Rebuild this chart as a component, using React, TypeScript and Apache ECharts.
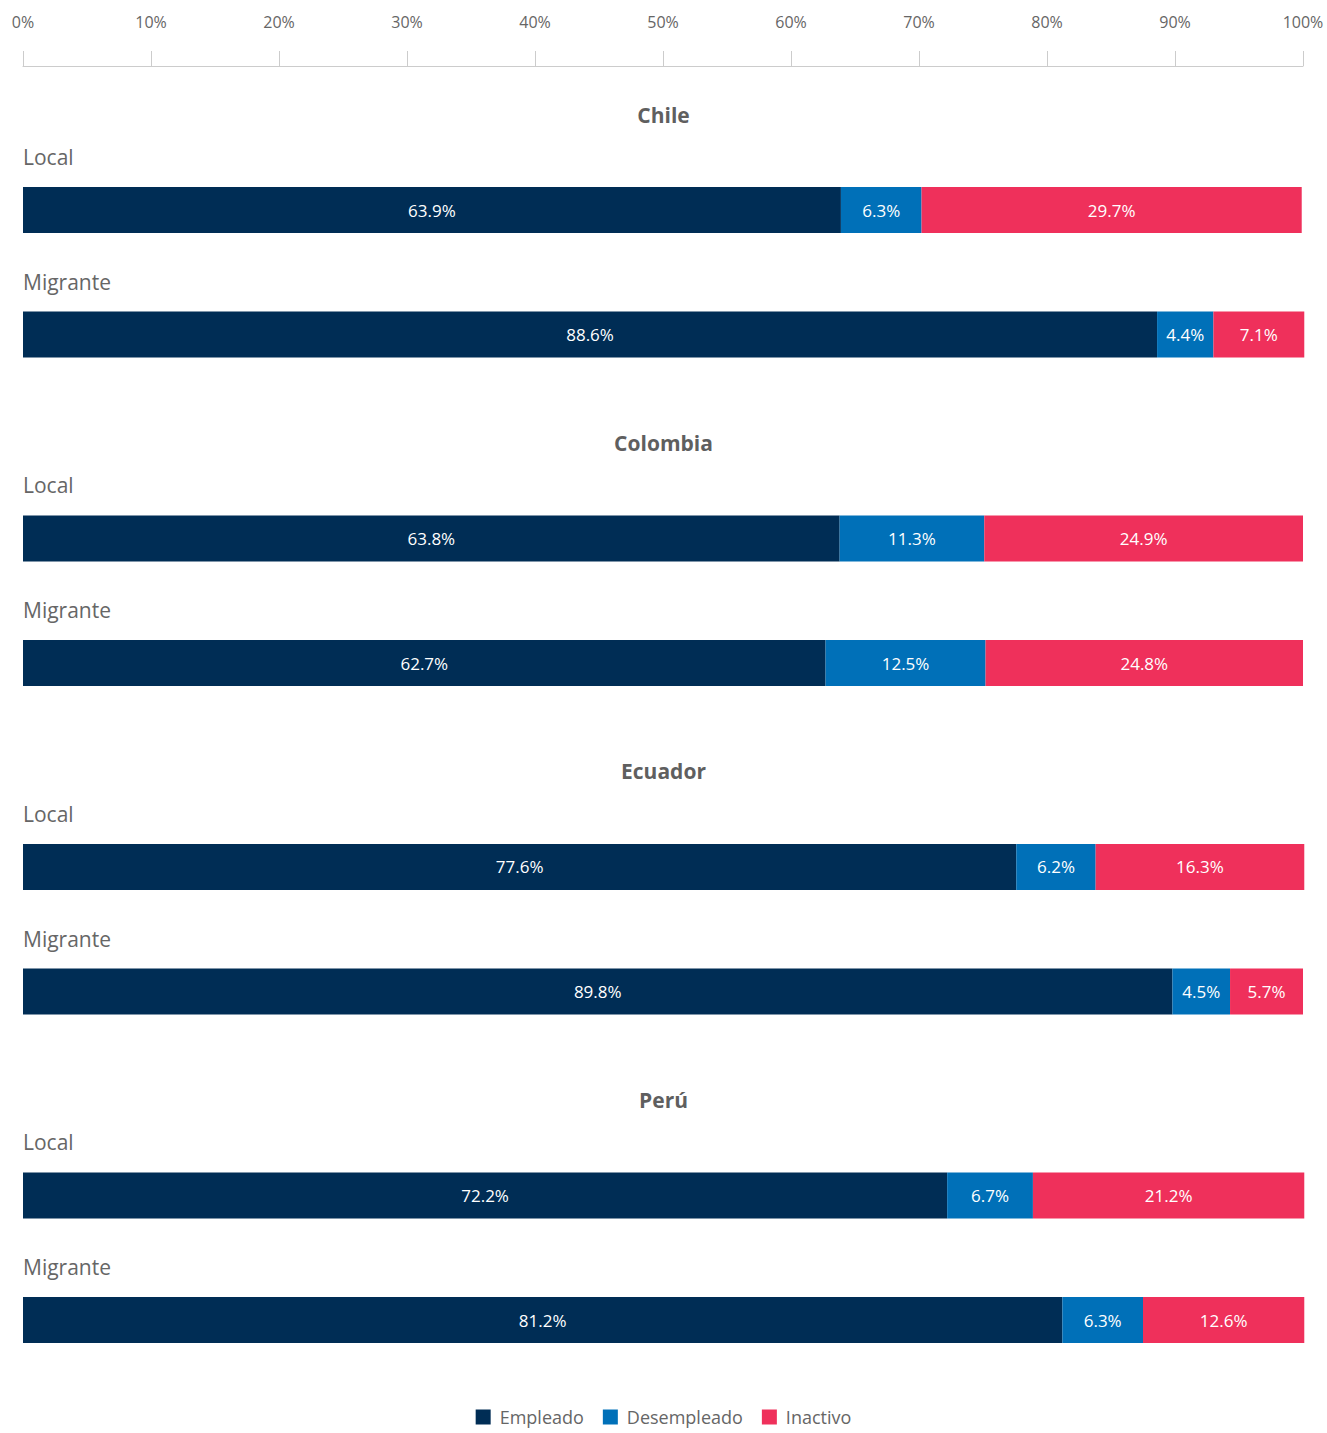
import { useEffect, useRef } from 'react';
import * as echarts from 'echarts';

const countries = ['Chile', 'Colombia', 'Ecuador', 'Perú'];
const groups = ['Local', 'Migrante'];
const seriesNames = ['Empleado', 'Desempleado', 'Inactivo'];
const empleado = [63.9, 88.6, 63.8, 62.7, 77.6, 89.8, 72.2, 81.2];
const desempleado = [6.3, 4.4, 11.3, 12.5, 6.2, 4.5, 6.7, 6.3];
const inactivo = [29.7, 7.1, 24.9, 24.8, 16.3, 5.7, 21.2, 12.6];
const colors = ['#002d55', '#0070b8', '#ef305b'];

export default function App() {
  const ref = useRef<HTMLDivElement>(null);
  useEffect(() => {
    document.body.style.margin = '0';
    const chart = echarts.init(ref.current!, null, { renderer: 'svg' });
    const font = '"Open Sans", Lato, sans-serif';
    const slotsPerCountry = 29;
    const groupStep = 11;
    const totalSlots = 3 * slotsPerCountry + groupStep + 1;
    const slotH = 1110 / (totalSlots - 1);
    const gridTop = 210 - slotH / 2;
    const cats: string[] = Array.from({ length: totalSlots }, (_, i) => `gap${i}`);
    const rowSlot: number[] = [];
    countries.forEach((c, ci) =>
      groups.forEach((g, gi) => {
        const s = ci * slotsPerCountry + gi * groupStep;
        cats[s] = `${c}|${g}`;
        rowSlot.push(s);
      })
    );
    const toSlots = (vals: number[]) => {
      const arr: (number | null)[] = new Array(totalSlots).fill(null);
      vals.forEach((v, i) => (arr[rowSlot[i]] = v));
      return arr;
    };
    const allVals = [empleado, desempleado, inactivo];

    chart.setOption({
      animation: false,
      textStyle: { fontFamily: font },
      title: countries.map((c, ci) => ({
        text: c,
        left: 'center',
        top: gridTop + (ci * slotsPerCountry + 0.5) * slotH - 95 - 11,
        padding: 0,
        textStyle: { fontSize: 21, fontWeight: 'bold', color: '#5f5f5f', fontFamily: font },
      })),
      legend: {
        data: seriesNames,
        left: 'center',
        top: 1403,
        itemWidth: 15,
        itemHeight: 15,
        itemGap: 19,
        icon: 'rect',
        textStyle: { fontSize: 18, color: '#666', fontFamily: font, padding: [0, 0, 0, 4] },
      },
      grid: { left: 23, right: 24, top: gridTop, height: totalSlots * slotH },
      xAxis: {
        type: 'value',
        position: 'top',
        offset: gridTop - 66,
        min: 0,
        max: 100,
        interval: 10,
        axisLine: { show: true, lineStyle: { color: '#cccccc' } },
        axisTick: { show: true, length: 15, lineStyle: { color: '#cccccc' } },
        axisLabel: { formatter: '{value}%', fontSize: 16, color: '#666', margin: 36, fontFamily: font },
        splitLine: { show: false },
      },
      yAxis: {
        type: 'category',
        inverse: true,
        data: cats,
        axisLine: { show: false },
        axisTick: { show: false },
        axisLabel: {
          inside: true,
          interval: 0,
          margin: 0,
          align: 'left',
          verticalAlign: 'bottom',
          padding: [0, 0, 42, 0],
          fontSize: 21,
          lineHeight: 22,
          color: '#666',
          fontFamily: font,
          formatter: (v: string) => (v.startsWith('gap') ? '' : v.split('|')[1]),
        },
      },
      series: seriesNames.map((name, si) => ({
        name,
        type: 'bar',
        stack: 'total',
        barWidth: 46,
        clip: false,
        itemStyle: { color: colors[si] },
        label: {
          show: true,
          position: 'inside',
          color: '#ffffff',
          fontSize: 17,
          fontFamily: font,
          formatter: (p: any) => (p.value == null ? '' : `${Number(p.value).toFixed(1)}%`),
        },
        data: toSlots(allVals[si]),
      })),
    });
    return () => chart.dispose();
  }, []);
  return <div ref={ref} style={{ position: 'absolute', left: 0, top: 0, width: 1327, height: 1433 }} />;
}
